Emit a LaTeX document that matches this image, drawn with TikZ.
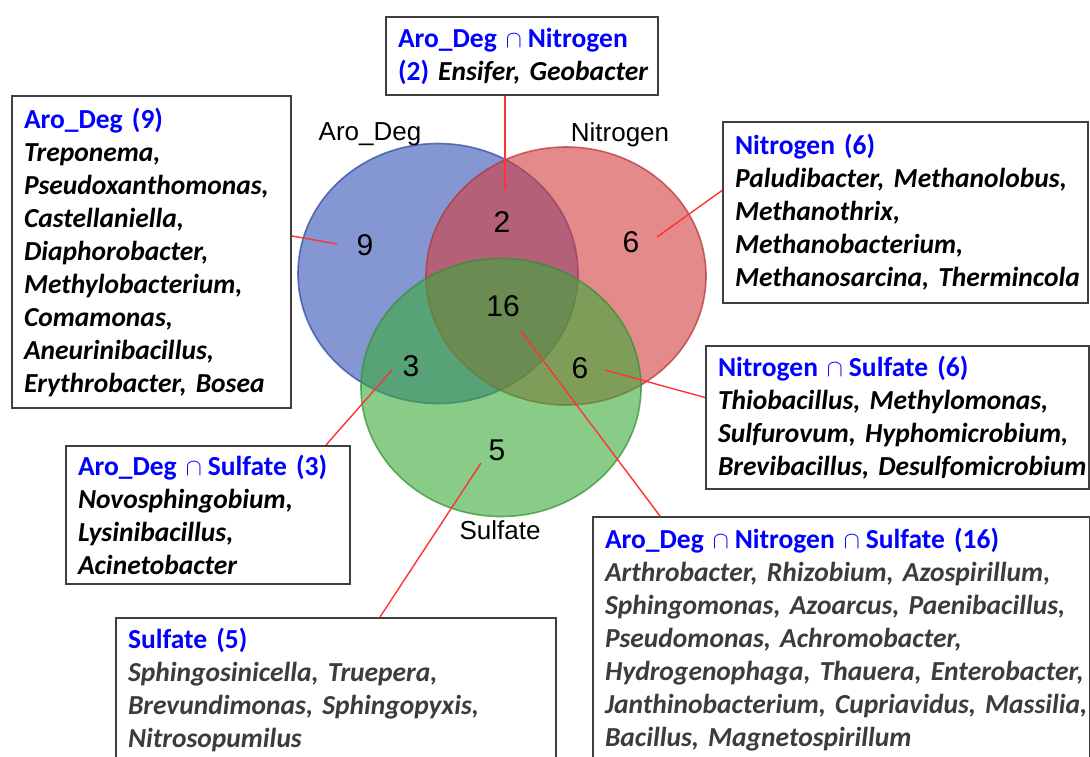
\documentclass[tikz,border=0pt]{standalone}
\usepackage{fontspec}
\setmainfont[WordSpace=0.8]{Carlito}
\newfontfamily\arialfont{Liberation Sans}
\usetikzlibrary{positioning}
\definecolor{AroBlue}{HTML}{3252B7}
\definecolor{NitRed}{HTML}{D43C3C}
\definecolor{SulGreen}{HTML}{39AA39}
\definecolor{HeadBlue}{HTML}{0000FF}
\definecolor{NameGrey}{HTML}{3C3C3C}
\definecolor{LinkRed}{HTML}{FF3333}
\definecolor{FrameGrey}{HTML}{404040}
\newcommand{\headtxt}[1]{{\color{HeadBlue}#1}}
\newcommand{\intsym}{\hspace*{4.5pt}{\fontsize{12.5}{12.5}\selectfont$\cap$}\hspace*{3pt}}

\begin{document}
\begin{tikzpicture}[
    x=0.5pt,y=-0.5pt,
    setfill/.style={fill=#1,fill opacity=0.6,draw=#1!85!black,draw opacity=0.7,line width=0.8pt},
    listbox/.style={draw=FrameGrey,line width=1pt,fill=white,inner xsep=0pt,inner ysep=2pt,
                    align=left,font=\fontsize{13.75}{16.5}\selectfont\bfseries,
                    execute at begin node={\leftskip=6pt\hyphenpenalty=10000\frenchspacing}},
    setname/.style={font=\arialfont\fontsize{13}{15}\selectfont},
    count/.style={font=\arialfont\fontsize{15}{18}\selectfont},
    link/.style={draw=LinkRed,line width=0.7pt}
  ]
  \useasboundingbox[fill=white] (0,0) rectangle (1090,756);
  % the three sets
  \path[setfill=AroBlue]  (438,273.5) ellipse [x radius=70pt,y radius=65pt];
  \path[setfill=NitRed]   (566,276)   ellipse [x radius=70pt,y radius=64.5pt];
  \path[setfill=SulGreen] (501,387.5) ellipse [x radius=70pt,y radius=64.5pt];
  \node[setname] (laro) at (370,134) {Aro\_Deg};
  \node[setname] (lnit) at (620,135) {Nitrogen};
  \node[setname] (lsul) at (500,530) {Sulfate};
  % region counts
  \node[count] (n9)  at (365,245) {9};
  \node[count] (n2)  at (502,222) {2};
  \node[count] (n6a) at (631,242) {6};
  \node[count] (n16) at (503,306) {16};
  \node[count] (n3)  at (411,366) {3};
  \node[count] (n6b) at (580,368) {6};
  \node[count] (n5)  at (497,450) {5};
  % ends of the pointers
  \coordinate (p2)  at (505,190);
  \coordinate (p9)  at (337,244);
  \coordinate (p6a) at (657,237);
  \coordinate (p6b) at (605,370);
  \coordinate (p3)  at (392,370);
  \coordinate (p5)  at (481,463);
  \coordinate (p16) at (521,331);
  % genus lists
  \node[listbox,text width=136pt,minimum height=39pt] (boxAN) at (522,56)
    {\headtxt{Aro\_Deg\intsym Nitrogen}\\\headtxt{(2)} \itshape Ensifer, Geobacter};
  \node[listbox,text width=139.5pt,minimum height=156pt] (boxA) at (151.5,252)
    {\headtxt{Aro\_Deg (9)}\\\itshape Treponema,\\Pseudoxanthomonas,\\Castellaniella,\\Diaphorobacter,\\
     Methylobacterium,\\Comamonas,\\Aneurinibacillus,\\Erythrobacter, Bosea};
  \node[listbox,text width=182.5pt,minimum height=90.5pt] (boxN) at (905.5,212.5)
    {\headtxt{Nitrogen (6)}\\\itshape Paludibacter, Methanolobus,\\Methanothrix,\\Methanobacterium,\\
     Methanosarcina, Thermincola};
  \node[listbox,text width=191.5pt,minimum height=71.5pt] (boxNS) at (897.5,417.5)
    {\headtxt{Nitrogen\intsym Sulfate (6)}\\\itshape Thiobacillus, Methylomonas,\\Sulfurovum, Hyphomicrobium,\\
     Brevibacillus, Desulfomicrobium};
  \node[listbox,text width=142pt,minimum height=69pt] (boxAS) at (208,515)
    {\headtxt{Aro\_Deg\intsym Sulfate (3)}\\\itshape Novosphingobium,\\Lysinibacillus,\\Acinetobacter};
  \node[listbox,text width=220pt,minimum height=71.5pt] (boxS) at (336,689.5)
    {\headtxt{Sulfate (5)}\\\color{NameGrey}\itshape Sphingosinicella, Truepera,\\Brevundimonas, Sphingopyxis,\\
     Nitrosopumilus};
  \node[listbox,text width=248.5pt,minimum height=123pt] (boxANS) at (841.5,640)
    {\headtxt{Aro\_Deg\intsym Nitrogen\intsym Sulfate (16)}\\\color{NameGrey}\itshape
     Arthrobacter, Rhizobium, Azospirillum,\\Sphingomonas, Azoarcus, Paenibacillus,\\
     Pseudomonas, Achromobacter,\\Hydrogenophaga, Thauera, Enterobacter,\\
     Janthinobacterium, Cupriavidus, Massilia,\\Bacillus, Magnetospirillum};
  % pointers
  \draw[link] ([xshift=-8.5pt]boxAN.south) -- (p2);
  \draw[link] ([yshift=8pt]boxA.east) -- (p9);
  \draw[link] ([yshift=11pt]boxN.west) -- (p6a);
  \draw[link] ([yshift=10pt]boxNS.west) -- (p6b);
  \draw[link] ([xshift=59pt]boxAS.north) -- (p3);
  \draw[link] ([xshift=22pt]boxS.north) -- (p5);
  \draw[link] ([xshift=-90.75pt]boxANS.north) -- (p16);
\end{tikzpicture}
\end{document}
